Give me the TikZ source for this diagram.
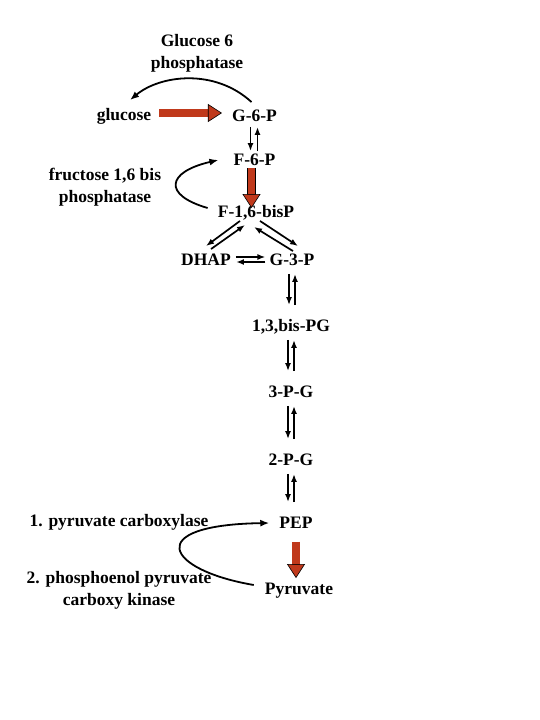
\documentclass[tikz,border=0pt]{standalone}
\usepackage{fontspec}
\setmainfont{Liberation Serif}
\usepackage{tikz}
\usetikzlibrary{arrows.meta}
\definecolor{arrowred}{RGB}{192,57,27}
\tikzset{metab/.style = {font=\fontsize{17.5}{22}\selectfont\bfseries,
                         inner sep = 2pt, text height = 12pt, text depth = 3.5pt}}
\tikzset{enzyme/.style = {font=\fontsize{17.5}{22}\selectfont\bfseries,
                          align = center, inner sep = 2pt}}
\tikzset{rev/.style = {line width = 1.7pt, -{Latex[length=8pt, width=6pt]}}}
\tikzset{curv/.style = {line width = 1.8pt, -{Latex[length=9pt, width=7pt]}}}
\tikzset{flux/.style = {line width = 7.5pt, arrowred,
                        -{Triangle[length=14pt, width=18pt, fill=arrowred, color=black, line width=0.6pt]},
                        preaction = {draw = black, line width = 8.9pt, -, shorten > = 12pt}}}

\begin{document}
\begin{tikzpicture}[x=1pt, y=-1pt]
      \useasboundingbox (0, 0) rectangle (540, 720);
      % enzymes of the bypass steps
      \node [enzyme] (g6pase) at (197, 53.5) {Glucose 6\\phosphatase};
      \node [enzyme] (f16bpase) at (105, 187) {fructose 1,6 bis\\phosphatase};
      \node [enzyme] (pc) at (119, 522) {1. pyruvate carboxylase};
      \node [enzyme] (pepck) at (119, 590.5) {2. phosphoenol pyruvate\\carboxy kinase};
      % metabolites
      \node [metab] (gluc) at (124, 116) {glucose};
      \node [metab] (g6p) at (254.5, 117) {G-6-P};
      \node [metab] (f6p) at (254.5, 161) {F-6-P};
      \node [metab] (f16bp) at (256, 213) {F-1,6-bisP};
      \node [metab] (dhap) at (206, 261) {DHAP};
      \node [metab] (g3p) at (292, 261) {G-3-P};
      \node [metab] (bpg) at (291, 327) {1,3,bis-PG};
      \node [metab] (pg3) at (291, 393) {3-P-G};
      \node [metab] (pg2) at (291, 461) {2-P-G};
      \node [metab] (pep) at (296, 524) {PEP};
      \node [metab] (pyr) at (299, 590) {Pyruvate};
      % reversible steps
      \draw [rev] ([xshift=-4pt]g6p.south) -- ([xshift=-4pt]f6p.north);
      \draw [rev] ([xshift=3pt]f6p.north) -- ([xshift=3pt]g6p.south);
      \draw [rev] ([xshift=-16pt, yshift=2pt]f16bp.south) -- ([yshift=5pt]dhap.north);
      \draw [rev] ([xshift=5pt, yshift=2pt]dhap.north) -- ([xshift=-11pt, yshift=-2pt]f16bp.south);
      \draw [rev] ([xshift=4pt, yshift=2pt]f16bp.south) -- ([xshift=6pt, yshift=5pt]g3p.north);
      \draw [rev] ([xshift=1pt]g3p.north) -- ([xshift=-2pt, yshift=-4pt]f16bp.south);
      \draw [rev, shorten < = 3pt, shorten > = 2pt] ([yshift=4pt]dhap.east) -- ([yshift=4pt]g3p.west);
      \draw [rev, shorten < = 2pt, shorten > = 3pt] ([yshift=-1pt]g3p.west) -- ([yshift=-1pt]dhap.east);
      \foreach \a/\b in {g3p/bpg, bpg/pg3, pg3/pg2, pg2/pep} {
        \draw [rev, shorten < = 3pt, shorten > = 12pt] ([xshift=-3pt]\a.south) -- ([xshift=-3pt]\a.south |- \b.north);
        \draw [rev, shorten < = 12pt, shorten > = 3pt] ([xshift=3pt]\a.south |- \b.north) -- ([xshift=3pt]\a.south);
      }
      % bypasses
      \draw [curv] ([xshift=-3pt, yshift=5pt]g6p.north) .. controls +(-37, -34) and +(30, -25) .. ([xshift=6pt, yshift=6pt]gluc.north);
      \draw [curv] ([xshift=-8pt, yshift=5pt]f16bp.west) .. controls +(-45, -13) and +(-52, 12) .. ([xshift=-13pt, yshift=1pt]f6p.west);
      \draw [curv] ([xshift=-9pt, yshift=5pt]pyr.west) .. controls +(-88, -15) and +(-128, 2) .. ([xshift=-8pt, yshift=1pt]pep.west);
      % irreversible glycolytic steps
      \draw [flux] ([xshift=6pt, yshift=3pt]gluc.east) -- ([xshift=-8pt, yshift=4pt]g6p.west);
      \draw [flux] ([xshift=-3pt, yshift=3pt]f6p.south) -- ([xshift=-4.5pt, yshift=-5pt]f16bp.north);
      \draw [flux] ([yshift=-8pt]pep.south) -- ([xshift=-3pt, yshift=2pt]pyr.north);
    \end{tikzpicture}
\end{document}
